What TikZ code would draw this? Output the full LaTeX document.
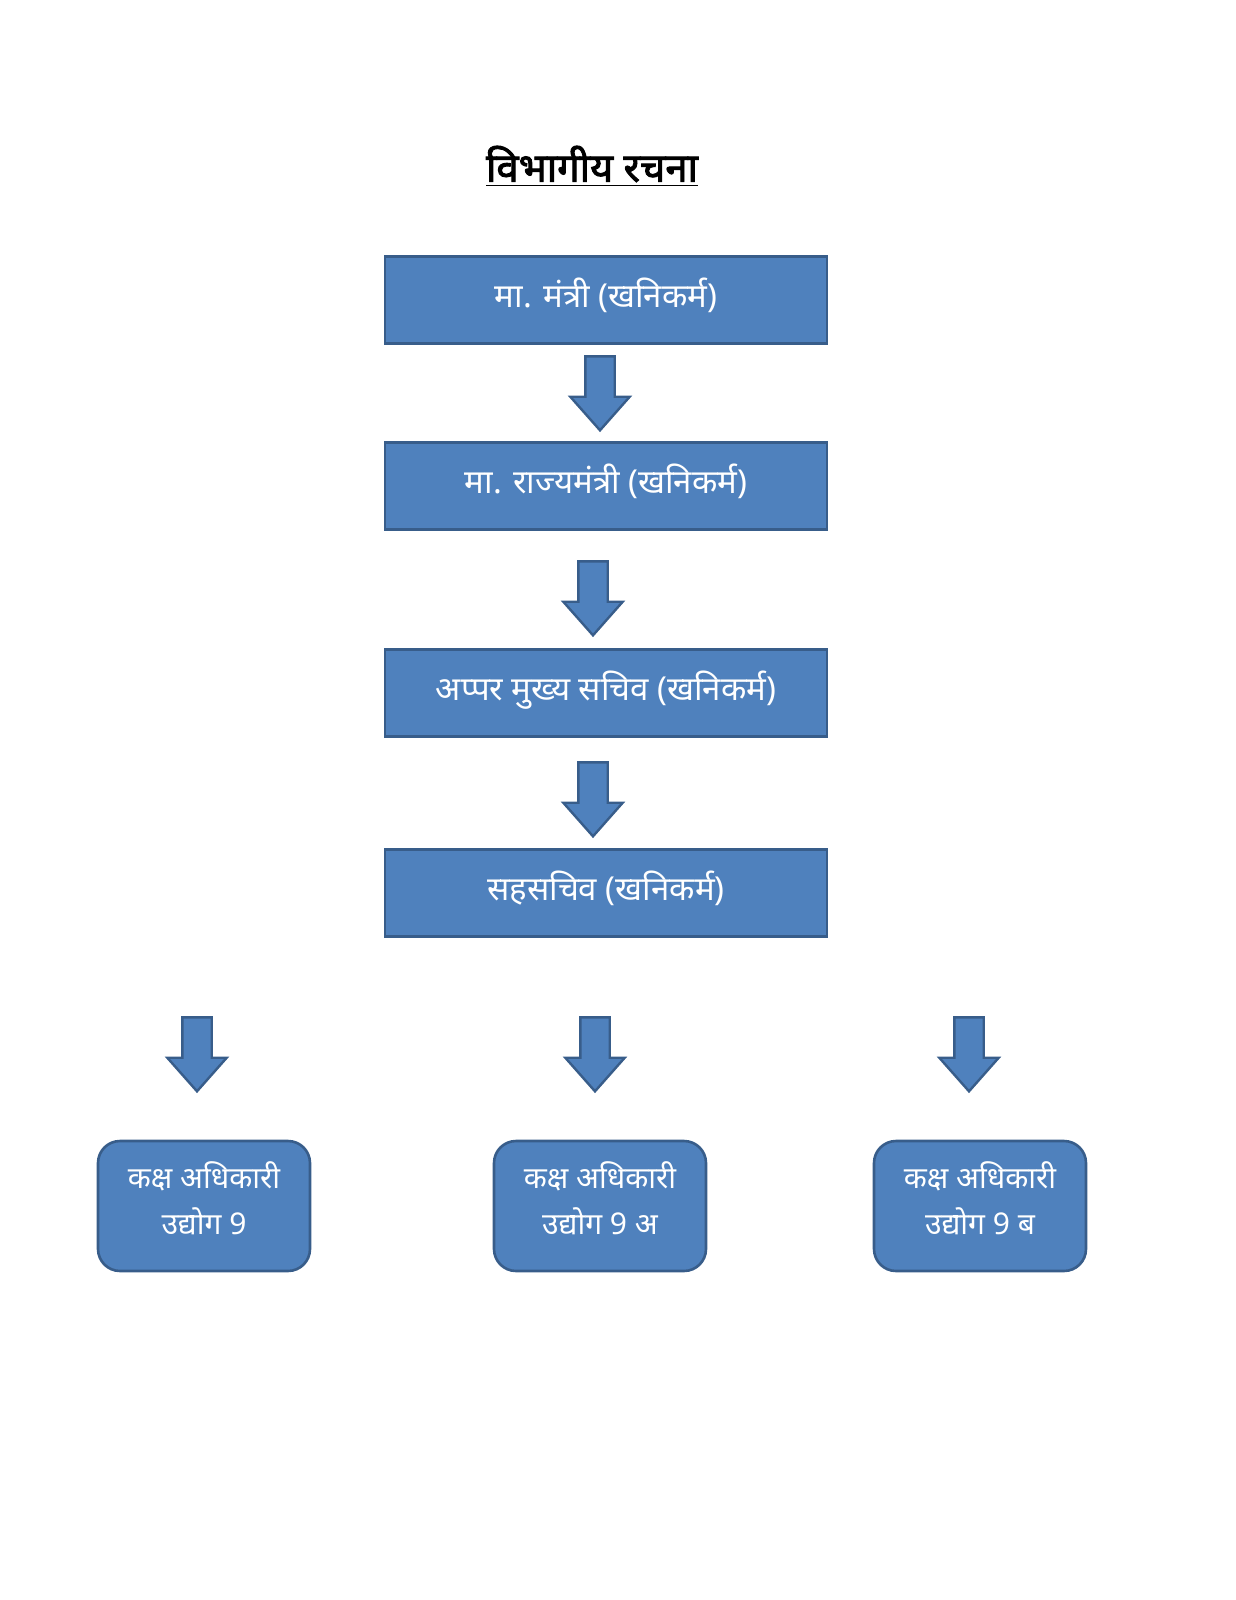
\documentclass[tikz,border=0pt]{standalone}
\usepackage{fontspec}
\newfontfamily\devfont[Script=Devanagari]{Noto Sans}
\newfontfamily\devbold[Script=Devanagari,FakeBold=2.2]{Noto Sans}
\usepackage{tikz}
\usetikzlibrary{
    shapes.arrows,
    positioning
}
\definecolor{boxblue}{HTML}{4F81BD}
\definecolor{boxline}{HTML}{385D8A}
\newdimen\px
\px=0.5pt

\begin{document}
\begin{tikzpicture}[
        x=\px, y=-\px,
        every node/.style={
            font=\devfont\fontsize{16.5pt}{19pt}\selectfont
        },
        title/.style={
            font=\devbold\fontsize{20pt}{24pt}\selectfont,
            text=black
        },
        post/.style={
            rectangle,
            draw=boxline,
            line width=1.3pt,
            fill=boxblue,
            text=white,
            minimum width=442\px,
            minimum height=87\px,
            text depth=14\px,
            inner sep=0pt
        },
        desk/.style={
            rectangle,
            rounded corners=11pt,
            draw=boxline,
            line width=1.3pt,
            fill=boxblue,
            text=white,
            minimum width=212\px,
            minimum height=130\px,
            align=center,
            text depth=16\px,
            font=\devfont\fontsize{15pt}{23pt}\selectfont
        },
        downarrow/.style={
            single arrow,
            rotate=-90,
            draw=boxline,
            line width=1.2pt,
            fill=boxblue,
            inner xsep=0pt,
            inner ysep=13.5\px,
            minimum height=74\px,
            minimum width=58\px,
            single arrow head extend=15\px,
            single arrow tip angle=83,
            single arrow head indent=0pt
        }
    ]

    \useasboundingbox (0,0) rectangle (1236,1600);

    \node[title] (head) at (592,166)
        {\underline{विभागीय रचना}};

    \node[post] (minister) at (606,300)
        {मा. मंत्री (खनिकर्म)};

    \node[downarrow] (arrA) at (600,385) {};

    \node[post] (stateminister) at (606,486)
        {मा. राज्यमंत्री (खनिकर्म)};

    \node[downarrow] (arrB) at (593,590) {};

    \node[post] (addlsecy) at (606,693)
        {अप्पर मुख्य सचिव (खनिकर्म)};

    \node[downarrow] (arrC) at (593,791) {};

    \node[post] (jointsecy) at (606,893)
        {सहसचिव (खनिकर्म)};

    \node[downarrow] (arrD) at (197,1046) {};
    \node[downarrow] (arrE) at (595,1046) {};
    \node[downarrow] (arrF) at (969,1046) {};

    \node[desk] (deskA) at (204,1206)
        {कक्ष अधिकारी\\
         उद्योग 9};

    \node[desk] (deskB) at (600,1206)
        {कक्ष अधिकारी\\
         उद्योग 9 अ};

    \node[desk] (deskC) at (980,1206)
        {कक्ष अधिकारी\\
         उद्योग 9 ब};

\end{tikzpicture}
\end{document}
